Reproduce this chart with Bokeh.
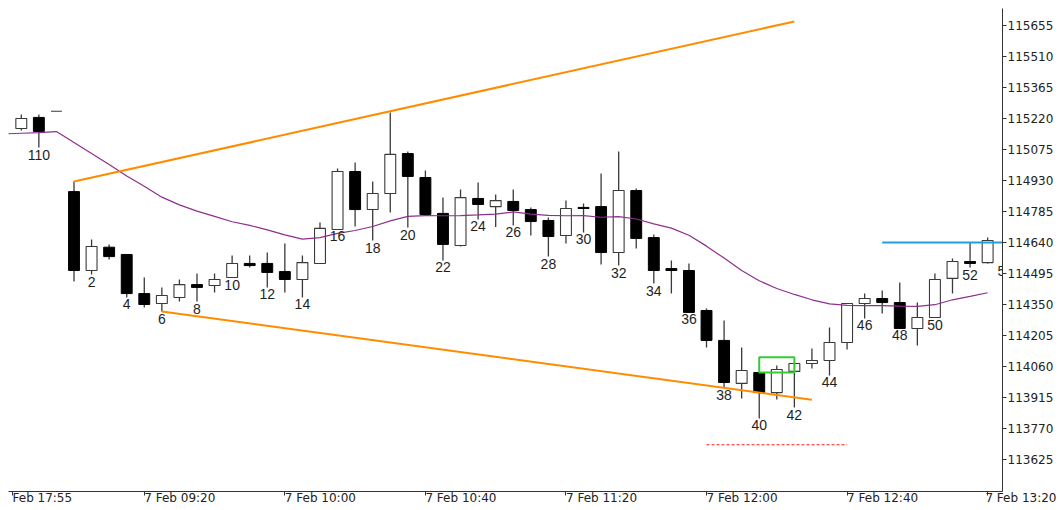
from bokeh.plotting import figure
from bokeh.models import Range1d, FixedTicker, PrintfTickFormatter, ColumnDataSource
from bokeh.embed import file_html
from bokeh.resources import INLINE
from bokeh.core.properties import value

# ---- data (bar index; -2..0 are the previous session's last bars 109..111) ----
bar_pos = [-2, -1, 0, 1, 2, 3, 4, 5, 6, 7, 8, 9, 10, 11, 12, 13, 14, 15, 16, 17, 18, 19, 20,
           21, 22, 23, 24, 25, 26, 27, 28, 29, 30, 31, 32, 33, 34, 35, 36, 37, 38, 39, 40,
           41, 42, 43, 44, 45, 46, 47, 48, 49, 50, 51, 52, 53]
opens = [115173, 115225, 115254, 114878, 114509, 114618, 114584, 114401, 114355, 114383, 114443,
         114439, 114476, 114542, 114542, 114504, 114467, 114542, 114701, 114972, 114794, 114869,
         115056, 114944, 114776, 114626, 114846, 114808, 114832, 114794, 114743, 114673, 114804,
         114808, 114593, 114883, 114663, 114518, 114509, 114322, 114182, 113981, 114032, 113938,
         114037, 114074, 114088, 114172, 114355, 114378, 114359, 114238, 114289, 114472, 114551,
         114546]
highs = [115239, 115239, 115254, 114925, 114654, 114631, 114584, 114476, 114430, 114467, 114495,
         114495, 114579, 114579, 114593, 114635, 114579, 114734, 114986, 115014, 114925, 115248,
         115066, 114977, 114850, 114888, 114921, 114865, 114888, 114804, 114757, 114836, 114822,
         114963, 115066, 114893, 114677, 114556, 114542, 114331, 114275, 114149, 114032, 114065,
         114074, 114144, 114242, 114355, 114401, 114416, 114453, 114359, 114495, 114565, 114640,
         114663]
lows = [115164, 115084, 115254, 114458, 114490, 114560, 114383, 114336, 114317, 114364, 114364,
        114406, 114476, 114523, 114430, 114406, 114383, 114542, 114701, 114715, 114649, 114780,
        114710, 114766, 114556, 114621, 114748, 114712, 114720, 114673, 114574, 114635, 114687,
        114537, 114532, 114612, 114448, 114401, 114313, 114149, 113961, 113910, 113817, 113906,
        113868, 114051, 114018, 114140, 114285, 114308, 114238, 114158, 114289, 114401, 114523,
        114542]
closes = [115220, 115159, 115254, 114509, 114621, 114574, 114401, 114350, 114392, 114443, 114430,
          114467, 114542, 114532, 114500, 114467, 114546, 114706, 114972, 114794, 114869, 115052,
          114949, 114771, 114631, 114850, 114818, 114836, 114790, 114738, 114668, 114799, 114799,
          114593, 114883, 114659, 114509, 114509, 114313, 114182, 113985, 114041, 113938, 114046,
          114074, 114088, 114172, 114355, 114378, 114359, 114238, 114289, 114467, 114551, 114542,
          114649]

# moving average (one value per bar, -3..53)
ma_pos = [-3, -2, -1, 0, 1, 2, 3, 4, 5, 6, 7, 8, 9, 10, 11, 12, 13, 14, 15, 16, 17, 18, 19, 20,
          21, 22, 23, 24, 25, 26, 27, 28, 29, 30, 31, 32, 33, 34, 35, 36, 37, 38, 39, 40, 41, 42,
          43, 44, 45, 46, 47, 48, 49, 50, 51, 52, 53]
ma_vals = [115148, 115151, 115154, 115159, 115108, 115056, 115005, 114951, 114903, 114852, 114816,
           114787, 114762, 114737, 114720, 114699, 114676, 114656, 114663, 114683, 114696, 114715,
           114741, 114762, 114766, 114765, 114766, 114769, 114773, 114783, 114773, 114767, 114765,
           114766, 114758, 114761, 114750, 114727, 114707, 114674, 114623, 114567, 114509, 114461,
           114425, 114397, 114372, 114353, 114346, 114345, 114345, 114342, 114341, 114349, 114372,
           114388, 114405]

# bar-number labels
label_pos = [-1, 2, 4, 6, 8, 10, 12, 14, 16, 18, 20, 22, 24, 26, 28, 30, 32, 34, 36, 38, 40,
             42, 44, 46, 48, 50, 52, 54]
label_text = ["110", "2", "4", "6", "8", "10", "12", "14", "16", "18", "20", "22", "24", "26",
              "28", "30", "32", "34", "36", "38", "40", "42", "44", "46", "48", "50", "52", "54"]
next_bar_low = 114540

# drawn objects
upper_trend_x = [1, 42]
upper_trend_y = [114925, 115674]
lower_trend_x = [6, 43]
lower_trend_y = [114317, 113904]
resist_x = [47, 56]
resist_y = [114640, 114640]
target_x = [37, 45]
target_y = [113694, 113694]
box_left, box_right = [40], [42]
box_bottom, box_top = [114032], [114103]

y_ticks = [113625, 113770, 113915, 114060, 114205, 114350, 114495, 114640, 114785, 114930,
           115075, 115220, 115365, 115510, 115655]
time_tick_pos = [-2.5, 5, 13, 21, 29, 37, 45, 53]
time_tick_labels = ["Feb 17:55", "7 Feb 09:20", "7 Feb 10:00", "7 Feb 10:40", "7 Feb 11:20",
                    "7 Feb 12:00", "7 Feb 12:40", "7 Feb 13:20"]

# ---- figure ----
p = figure(frame_width=994, frame_height=483,
           x_range=Range1d(-2.728, 53.846), y_range=Range1d(113475.3, 115734.5),
           output_backend="svg", toolbar_location=None, y_axis_location="right",
           min_border_left=8, min_border_top=8, min_border_right=0, min_border_bottom=0)
p.outline_line_color = None
p.grid.visible = False
p.background_fill_color = "white"
p.border_fill_color = "white"

yax = p.yaxis[0]
yax.ticker = FixedTicker(ticks=y_ticks)
yax.formatter = PrintfTickFormatter(format="%d")
yax.major_tick_out = 4
yax.major_tick_in = 0
yax.minor_tick_line_color = None
yax.major_label_standoff = 1
yax.major_label_text_font = "DejaVu Sans"
yax.major_label_text_font_size = "12px"
yax.major_label_text_color = "#222222"
yax.axis_line_color = "#333333"
yax.major_tick_line_color = "#333333"

xax = p.xaxis[0]
xax.ticker = FixedTicker(ticks=time_tick_pos)
xax.major_label_overrides = {t: l for t, l in zip(time_tick_pos, time_tick_labels)}
xax.major_label_orientation = -1e-9
xax.major_tick_out = 4
xax.major_tick_in = 0
xax.minor_tick_line_color = None
xax.major_label_standoff = 2
xax.major_label_text_font = "DejaVu Sans"
xax.major_label_text_font_size = "12px"
xax.major_label_text_color = "#222222"
xax.axis_line_color = "#333333"
xax.major_tick_line_color = "#333333"

# ---- candles ----
src = ColumnDataSource(dict(x=bar_pos, o=opens, h=highs, l=lows, c=closes))
inc = [i for i in range(len(bar_pos)) if closes[i] >= opens[i]]
dec = [i for i in range(len(bar_pos)) if closes[i] < opens[i]]
inc_src = ColumnDataSource(dict(x=[bar_pos[i] for i in inc], top=[closes[i] for i in inc],
                                bottom=[opens[i] for i in inc]))
dec_src = ColumnDataSource(dict(x=[bar_pos[i] for i in dec], top=[opens[i] for i in dec],
                                bottom=[closes[i] for i in dec]))

p.segment(x0="x", y0="h", x1="x", y1="l", source=src, line_color="#3a3a3a", line_width=1.3)
p.vbar(x="x", width=0.62, top="top", bottom="bottom", source=inc_src,
       fill_color="white", line_color="#3a3a3a", line_width=1.1)
p.vbar(x="x", width=0.62, top="top", bottom="bottom", source=dec_src,
       fill_color="black", line_color="black", line_width=1)

# ---- indicator / drawings ----
p.line(ma_pos, ma_vals, line_color="#8e2f8e", line_width=1.2)
p.line(upper_trend_x, upper_trend_y, line_color="#ff8c00", line_width=2)
p.line(lower_trend_x, lower_trend_y, line_color="#ff8c00", line_width=2)
p.line(resist_x, resist_y, line_color="#1ba1e2", line_width=2)
p.line(target_x, target_y, line_color="#ff2020", line_width=1, line_dash="3 2")
p.quad(left=box_left, right=box_right, bottom=box_bottom, top=box_top,
       fill_alpha=0, line_color="#33cc33", line_width=2)

# ---- bar numbers ----
low_of = dict(zip(bar_pos, lows))
label_y = [low_of.get(b, next_bar_low) for b in label_pos]
p.text(x=label_pos, y=label_y, text=label_text, text_align="center", text_baseline="top",
       y_offset=2, text_font=value("Liberation Sans"), text_font_size="14px",
       text_color="#1e1e1e")

open("out.html", "w").write(file_html(p, INLINE))
